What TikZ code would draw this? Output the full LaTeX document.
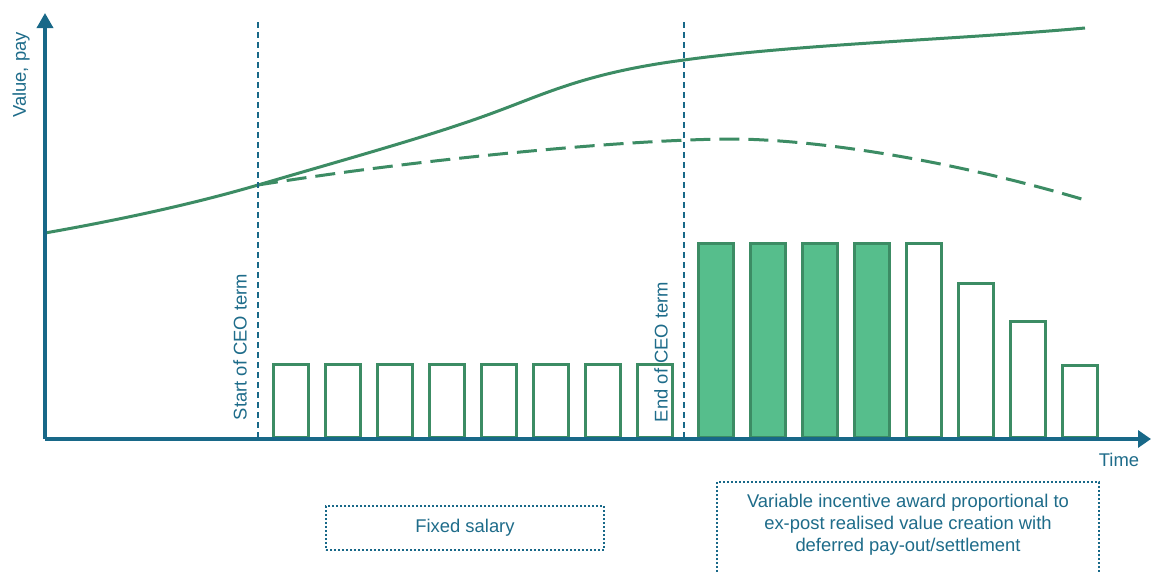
\documentclass[tikz,border=0pt]{standalone}
\usepackage{fontspec}
\setmainfont{Liberation Sans}
\usetikzlibrary{arrows.meta}
\definecolor{axisblue}{RGB}{24,104,136}
\definecolor{txtblue}{RGB}{30,108,138}
\definecolor{lgreen}{RGB}{60,140,100}
\definecolor{bfill}{RGB}{86,190,140}
\tikzset{
  axisline/.style={draw=axisblue, line width=3.4pt},
  termline/.style={draw=axisblue, line width=1.2pt, dash pattern=on 6pt off 4pt},
  fixbar/.style={draw=lgreen, line width=3pt, fill=white, inner sep=0pt, minimum width=35pt, anchor=south west},
  varbar/.style={fixbar, fill=bfill},
  curve/.style={draw=lgreen, line width=3pt},
  lbl/.style={text=txtblue, font=\fontsize{18.4}{22}\selectfont, inner sep=0pt},
  dotbox/.style={draw=axisblue, line width=2pt, dash pattern=on 2pt off 2pt}
}
\begin{document}
\begin{tikzpicture}[x=1pt,y=-1pt]
\clip (0,0) rectangle (1151,571);
\fill[white] (0,0) rectangle (1151,571);
% fixed salary bars
\foreach \i/\x in {1/272,2/324,3/376,4/428,5/480,6/532,7/584,8/636}{
  \node[fixbar, minimum height=72.5pt] (f\i) at (\x,438.5) {};
}
% variable bars
\foreach \i/\x/\h in {1/697/193.5,2/749/193.5,3/801/193.5,4/853/193.5}{
  \node[varbar, minimum height=\h pt] (v\i) at (\x,438.5) {};
}
\foreach \i/\x/\h in {5/905/193.5,6/957/153.5,7/1009/115.5,8/1061/71.5}{
  \node[fixbar, minimum height=\h pt] (v\i) at (\x,438.5) {};
}
% curves
\coordinate (c0) at (45,233);
\coordinate (cs) at (258,185);
\coordinate (ce) at (1085,28);
\coordinate (de) at (1085,200);
\draw[curve] (c0) .. controls (130,218) and (200,202) .. (cs)
  .. controls (350,158) and (430,136) .. (490,114)
  .. controls (545,94) and (585,73) .. (684,60)
  .. controls (800,44) and (950,40) .. (ce);
\draw[curve, dash pattern=on 20pt off 9pt] (cs)
  .. controls (420,159) and (630,139) .. (735,139)
  .. controls (820,140) and (950,160) .. (de);
% term lines
\coordinate (st) at (258,22);
\coordinate (sb) at (258,438);
\coordinate (et) at (684,22);
\coordinate (eb) at (684,438);
\draw[termline] (st) -- (sb);
\draw[termline] (et) -- (eb);
% axes
\coordinate (o) at (45,439);
\coordinate (ytip) at (45,13);
\coordinate (xtip) at (1151,439);
\draw[axisline, -{Triangle[length=15pt,width=16pt]}] (o) -- (ytip);
\draw[axisline, -{Triangle[length=13pt,width=17pt]}] (o) -- (xtip);
% labels
\node[lbl, rotate=90] (yl) at (21,75) {Value, pay};
\node[lbl, anchor=base] (xl) at (1119,466) {Time};
\node[lbl, rotate=90] (sl) at (240,347) {Start of CEO term};
\node[lbl, rotate=90] (el) at (661,352) {End of CEO term};
% boxes
\node[lbl, dotbox, minimum width=278pt, minimum height=44pt] (fb) at (465,528) {Fixed salary};
\draw[dotbox] (717,600) -- (717,482) -- (1099,482) -- (1099,600);
\node[lbl, align=center] (vb) at (908,525) {Variable incentive award proportional to\\ex-post realised value creation with\\deferred pay-out/settlement};
\end{tikzpicture}
\end{document}
